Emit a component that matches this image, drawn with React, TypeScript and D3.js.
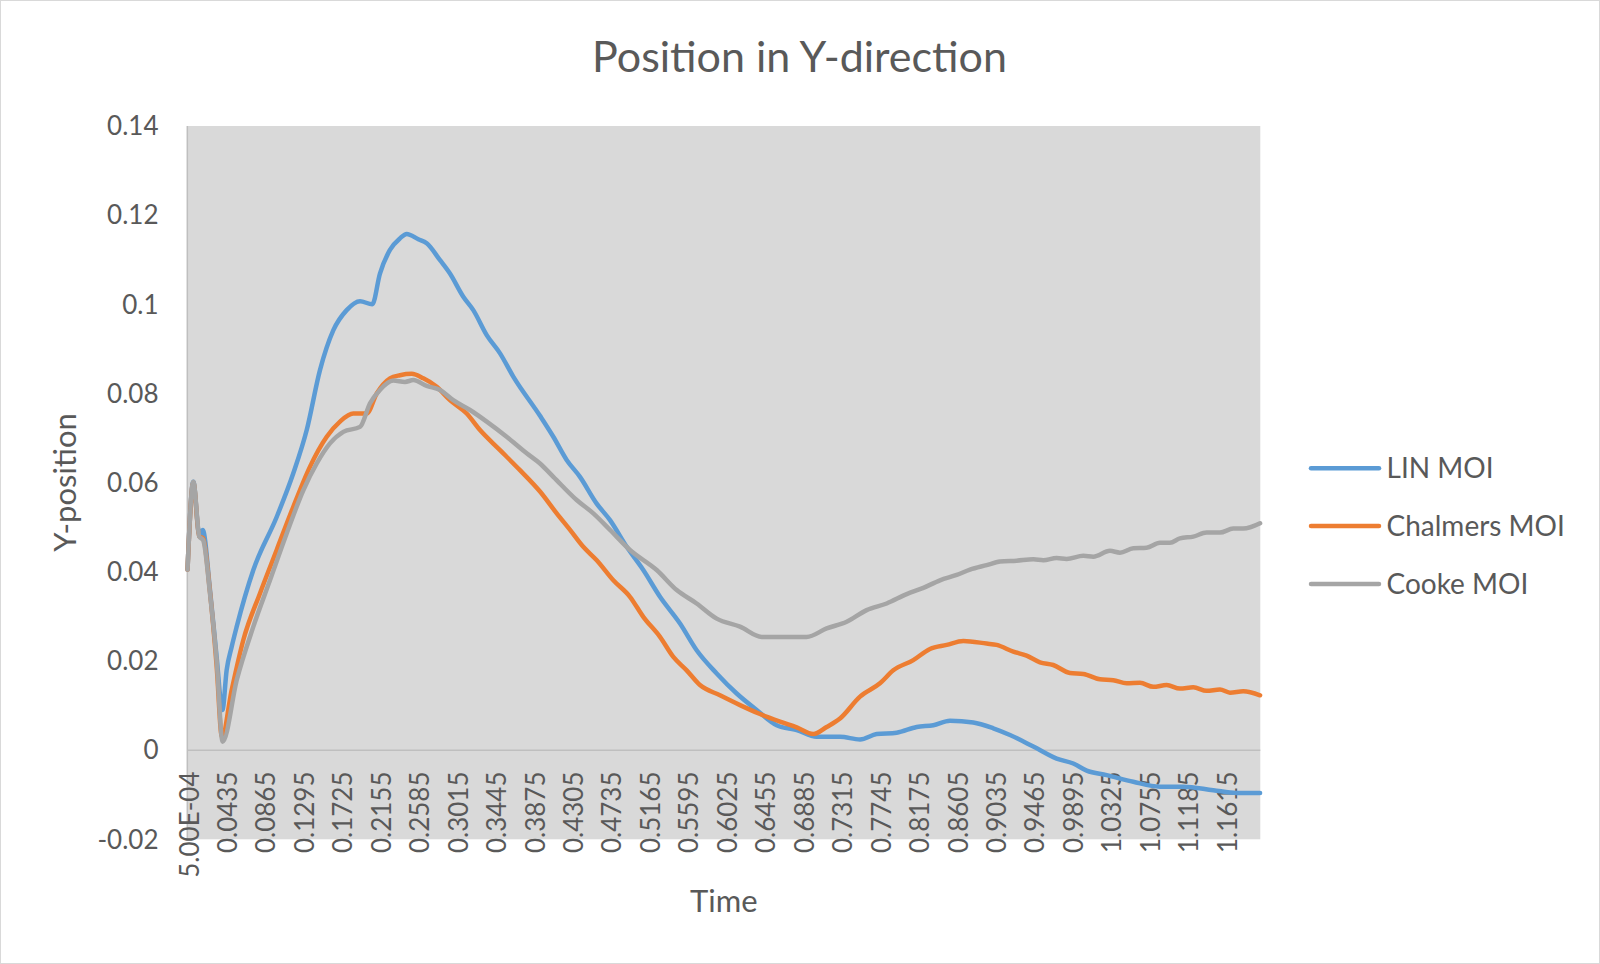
import React from "react";
import * as d3 from "d3";

const TITLE = "Position in Y-direction";
const X_TITLE = "Time";
const Y_TITLE = "Y-position";
const SERIES_NAMES = ["LIN MOI", "Chalmers MOI", "Cooke MOI"];
const SERIES_COLORS = ["#5B9BD5", "#ED7D31", "#A5A5A5"];

const Y_TICKS = [0.14, 0.12, 0.1, 0.08, 0.06, 0.04, 0.02, 0, -0.02];
const Y_TICK_LABELS = ["0.14", "0.12", "0.1", "0.08", "0.06", "0.04", "0.02", "0", "-0.02"];

const X_TICKS = [0.0005, 0.0435, 0.0865, 0.1295, 0.1725, 0.2155, 0.2585, 0.3015, 0.3445, 0.3875,
  0.4305, 0.4735, 0.5165, 0.5595, 0.6025, 0.6455, 0.6885, 0.7315, 0.7745, 0.8175, 0.8605,
  0.9035, 0.9465, 0.9895, 1.0325, 1.0755, 1.1185, 1.1615];
const X_TICK_LABELS = ["5.00E-04", "0.0435", "0.0865", "0.1295", "0.1725", "0.2155", "0.2585",
  "0.3015", "0.3445", "0.3875", "0.4305", "0.4735", "0.5165", "0.5595", "0.6025", "0.6455",
  "0.6885", "0.7315", "0.7745", "0.8175", "0.8605", "0.9035", "0.9465", "0.9895", "1.0325",
  "1.0755", "1.1185", "1.1615"];

// [time, y-position]
const LIN_MOI: [number, number][] = [
  [0.0005, 0.0405], [0.007, 0.0602], [0.0135, 0.0485], [0.0175, 0.0494], [0.0256, 0.036], [0.033, 0.021],
  [0.0395, 0.009], [0.0443, 0.018], [0.0499, 0.0232], [0.0555, 0.0277], [0.0741, 0.0404], [0.1002, 0.0523],
  [0.1188, 0.0621], [0.1338, 0.0718], [0.1487, 0.0853], [0.1636, 0.0942], [0.1785, 0.0987], [0.1934, 0.1007],
  [0.2071, 0.1], [0.2157, 0.1069], [0.2269, 0.1122], [0.2381, 0.1148], [0.2456, 0.1158], [0.2586, 0.1146],
  [0.268, 0.1137], [0.2829, 0.1099], [0.294, 0.1069], [0.3089, 0.1017], [0.3201, 0.0987], [0.3351, 0.0931],
  [0.35, 0.089], [0.3648, 0.0838], [0.3947, 0.075], [0.4096, 0.0703], [0.4245, 0.0651], [0.4394, 0.0613],
  [0.4581, 0.0553], [0.473, 0.0516], [0.4917, 0.0456], [0.5102, 0.0404], [0.5289, 0.0344], [0.5513, 0.0284],
  [0.5699, 0.0224], [0.5923, 0.0172], [0.6147, 0.0127], [0.637, 0.009], [0.6594, 0.0056], [0.6818, 0.0045],
  [0.7041, 0.003], [0.7302, 0.003], [0.7526, 0.0024], [0.7712, 0.0036], [0.7936, 0.0039], [0.816, 0.0052],
  [0.8346, 0.0056], [0.8532, 0.0066], [0.8793, 0.0062], [0.9016, 0.0049], [0.9203, 0.0034], [0.9464, 0.0008],
  [0.9725, -0.0019], [0.9911, -0.003], [1.0061, -0.0046], [1.0284, -0.0056], [1.0582, -0.0071], [1.088, -0.0082],
  [1.1141, -0.0082], [1.1477, -0.009], [1.1738, -0.0096], [1.2, -0.0096],
];

const CHALMERS_MOI: [number, number][] = [
  [0.0005, 0.0405], [0.007, 0.06], [0.0135, 0.048], [0.018, 0.0475], [0.0256, 0.0355], [0.033, 0.019],
  [0.039, 0.003], [0.0499, 0.0135], [0.0629, 0.0247], [0.0816, 0.0352], [0.1002, 0.0449], [0.1188, 0.0546],
  [0.1375, 0.0636], [0.1562, 0.0703], [0.171, 0.0737], [0.1859, 0.0755], [0.2009, 0.0755], [0.2121, 0.08],
  [0.2269, 0.0834], [0.2381, 0.0841], [0.2512, 0.0844], [0.2642, 0.0834], [0.2792, 0.0815], [0.294, 0.0785],
  [0.3127, 0.0755], [0.3276, 0.0718], [0.35, 0.0673], [0.3723, 0.0628], [0.3947, 0.058], [0.4134, 0.0531],
  [0.4283, 0.0494], [0.4431, 0.0456], [0.4581, 0.0426], [0.4767, 0.0381], [0.4953, 0.0344], [0.5102, 0.0299],
  [0.5289, 0.0254], [0.5438, 0.0209], [0.5587, 0.0179], [0.5736, 0.0146], [0.596, 0.0123], [0.6184, 0.0101],
  [0.6407, 0.0081], [0.6631, 0.0064], [0.6818, 0.0051], [0.7003, 0.0036], [0.7153, 0.0052], [0.7302, 0.0071],
  [0.7526, 0.012], [0.7749, 0.015], [0.7898, 0.0179], [0.8122, 0.0202], [0.8308, 0.0227], [0.8495, 0.0236],
  [0.8681, 0.0245], [0.8942, 0.0239], [0.9054, 0.0236], [0.924, 0.0221], [0.9389, 0.0212], [0.9538, 0.0197],
  [0.9687, 0.0191], [0.9874, 0.0173], [1.0023, 0.0171], [1.0209, 0.0159], [1.0358, 0.0157], [1.0508, 0.015],
  [1.0657, 0.0151], [1.0806, 0.0142], [1.0955, 0.0146], [1.1104, 0.0138], [1.1253, 0.0141], [1.1402, 0.0133],
  [1.1551, 0.0136], [1.1663, 0.0129], [1.1812, 0.0132], [1.2, 0.0123],
];

const COOKE_MOI: [number, number][] = [
  [0.0005, 0.0405], [0.007, 0.0602], [0.0137, 0.0479], [0.018, 0.0471], [0.0256, 0.0352], [0.033, 0.0202],
  [0.0398, 0.0019], [0.0555, 0.0157], [0.0741, 0.0277], [0.0927, 0.0381], [0.1114, 0.0486], [0.13, 0.0583],
  [0.145, 0.0643], [0.1598, 0.0688], [0.1747, 0.0714], [0.1934, 0.0725], [0.2046, 0.0778], [0.2157, 0.0808],
  [0.2306, 0.0829], [0.2437, 0.0826], [0.253, 0.083], [0.268, 0.0817], [0.2829, 0.0808], [0.2977, 0.0785],
  [0.3164, 0.0763], [0.3351, 0.0737], [0.3574, 0.0703], [0.3798, 0.0666], [0.3947, 0.0643], [0.4096, 0.0613],
  [0.4357, 0.0561], [0.4543, 0.0531], [0.473, 0.0494], [0.4953, 0.0449], [0.5252, 0.0404], [0.5476, 0.0359],
  [0.5699, 0.0329], [0.5923, 0.0295], [0.6184, 0.0277], [0.6426, 0.0254], [0.6929, 0.0254], [0.7153, 0.0273],
  [0.7377, 0.0288], [0.76, 0.0314], [0.7824, 0.0329], [0.8048, 0.035], [0.8234, 0.0364], [0.842, 0.0381],
  [0.8607, 0.0393], [0.8756, 0.0405], [0.8942, 0.0415], [0.9091, 0.0423], [0.9278, 0.0425], [0.9464, 0.0428],
  [0.9576, 0.0426], [0.9725, 0.0431], [0.9837, 0.0429], [1.0023, 0.0436], [1.0135, 0.0434], [1.0321, 0.0447],
  [1.0433, 0.0443], [1.0582, 0.0453], [1.0731, 0.0454], [1.088, 0.0465], [1.0992, 0.0465], [1.1104, 0.0475],
  [1.1253, 0.0479], [1.1402, 0.0488], [1.1551, 0.0488], [1.17, 0.0497], [1.1812, 0.0497], [1.2, 0.0509],
];

const SERIES = [LIN_MOI, CHALMERS_MOI, COOKE_MOI];

const W = 1600;
const H = 964;
const PLOT = { left: 187.3, top: 126, right: 1260.3, bottom: 839.3 };
const FONT = "Lato, 'Open Sans', sans-serif";
const TEXT_COLOR = "#595959";

export default function App() {
  const x = d3.scaleLinear().domain([0.00025, 1.20025]).range([PLOT.left, PLOT.right]);
  const y = d3.scaleLinear().domain([-0.02, 0.14]).range([PLOT.bottom, PLOT.top]);
  const line = d3
    .line<[number, number]>()
    .x((d) => x(d[0]))
    .y((d) => y(d[1]))
    .curve(d3.curveMonotoneX);

  const legendY = [468.3, 526, 584];

  return (
    <svg
      width={W}
      height={H}
      style={{ position: "absolute", left: 0, top: 0, display: "block", background: "#fff" }}
      fontFamily={FONT}
    >
      <rect x={0.5} y={0.5} width={W - 1} height={H - 1} fill="#fff" stroke="#d9d9d9" strokeWidth={1} />
      <text x={799.5} y={71.5} textAnchor="middle" fontSize={43} fontWeight={400} fill={TEXT_COLOR}>
        {TITLE}
      </text>

      <rect
        x={PLOT.left}
        y={PLOT.top}
        width={PLOT.right - PLOT.left}
        height={PLOT.bottom - PLOT.top}
        fill="#d9d9d9"
      />
      <line x1={PLOT.left} x2={PLOT.left} y1={PLOT.top} y2={PLOT.bottom} stroke="#bfbfbf" strokeWidth={1.5} />
      <line x1={PLOT.left} x2={PLOT.right} y1={y(0)} y2={y(0)} stroke="#bfbfbf" strokeWidth={1.5} />

      {Y_TICKS.map((v, i) => (
        <text key={"yt" + i} x={158.5} y={y(v) + 9.3} textAnchor="end" fontSize={26} fill={TEXT_COLOR}>
          {Y_TICK_LABELS[i]}
        </text>
      ))}

      {X_TICKS.map((t, i) => (
        <text
          key={"xt" + i}
          transform={`translate(${x(t) + 11},${771.5}) rotate(-90)`}
          textAnchor="end"
          fontSize={26}
          fill={TEXT_COLOR}
        >
          {X_TICK_LABELS[i]}
        </text>
      ))}

      {SERIES.map((s, i) => (
        <path
          key={"s" + i}
          d={line(s) || ""}
          fill="none"
          stroke={SERIES_COLORS[i]}
          strokeWidth={4.5}
          strokeLinejoin="round"
          strokeLinecap="round"
        />
      ))}

      <text x={(PLOT.left + PLOT.right) / 2} y={912} textAnchor="middle" fontSize={31} fill={TEXT_COLOR}>
        {X_TITLE}
      </text>
      <text transform={`translate(${76},${482.5}) rotate(-90)`} textAnchor="middle" fontSize={31} fill={TEXT_COLOR}>
        {Y_TITLE}
      </text>

      {SERIES_NAMES.map((name, i) => (
        <g key={"lg" + i}>
          <line
            x1={1311}
            x2={1379}
            y1={legendY[i]}
            y2={legendY[i]}
            stroke={SERIES_COLORS[i]}
            strokeWidth={4.5}
            strokeLinecap="round"
          />
          <text x={1386.5} y={legendY[i] + 10} fontSize={28} fill={TEXT_COLOR}>
            {name}
          </text>
        </g>
      ))}
    </svg>
  );
}
